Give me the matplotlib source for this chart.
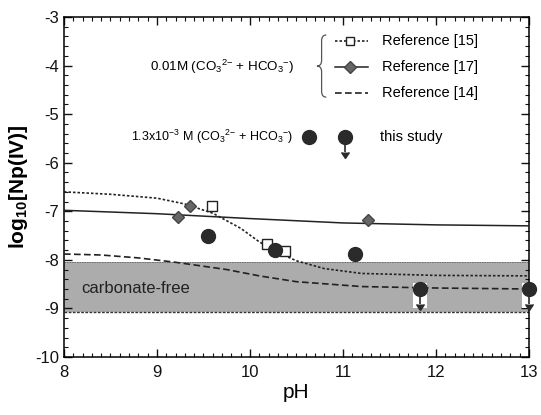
import matplotlib
matplotlib.use("Agg")
import matplotlib.pyplot as plt
from matplotlib.ticker import MultipleLocator
from matplotlib.path import Path
from matplotlib.patches import PathPatch

plt.rcParams['font.family'] = ['Liberation Sans', 'DejaVu Sans']
plt.rcParams['mathtext.default'] = 'regular'
plt.rcParams['axes.unicode_minus'] = False

# Reference [15] (dotted curve + open squares)
ref15_curve_ph = [8.0, 8.5, 9.0, 9.3, 9.6, 9.9, 10.1, 10.3, 10.5, 10.8, 11.2, 12.0, 13.0]
ref15_curve_log = [-6.60, -6.65, -6.73, -6.85, -7.04, -7.35, -7.63, -7.85, -8.02, -8.18, -8.28, -8.32, -8.33]
ref15_pts_ph = [9.59, 10.18, 10.38]
ref15_pts_log = [-6.89, -7.68, -7.82]

# Reference [17] (solid curve + diamonds)
ref17_curve_ph = [8.0, 9.0, 10.0, 11.0, 12.0, 13.0]
ref17_curve_log = [-6.98, -7.05, -7.15, -7.24, -7.28, -7.30]
ref17_pts_ph = [9.23, 9.36, 11.27]
ref17_pts_log = [-7.12, -6.90, -7.18]

# Reference [14] (dashed curve)
ref14_curve_ph = [8.0, 8.4, 8.8, 9.2, 9.75, 10.1, 10.5, 11.2, 12.0, 13.0]
ref14_curve_log = [-7.88, -7.90, -7.96, -8.05, -8.20, -8.33, -8.45, -8.55, -8.58, -8.60]

# This study
study_ph = [9.55, 10.27, 11.13]
study_log = [-7.51, -7.80, -7.88]
study_lim_ph = [11.83, 13.0]
study_lim_log = [-8.60, -8.60]

# Carbonate-free band
band_ph = [8.0, 13.0]
band_low = [-9.08, -9.08]
band_high = [-8.05, -8.05]

DARK = '#2a2a2a'

fig = plt.figure(figsize=(5.41, 4.15), dpi=100)
ax = fig.add_axes([0.1183, 0.1398, 0.8595, 0.8192])

ax.fill_between(band_ph, band_low, band_high, color='#acacac', zorder=1, lw=0)
ax.plot(band_ph, band_low, color='#333333', lw=1.0, ls=(0, (2, 1)), zorder=2)
ax.plot(band_ph, band_high, color='#666666', lw=0.6, ls=(0, (2, 1)), zorder=2)
ax.text(8.19, -8.6, 'carbonate-free', fontsize=12, color='#222222', va='center', ha='left', zorder=3)

ax.plot(ref15_curve_ph, ref15_curve_log, color='#222222', lw=1.2, ls=(0, (1.5, 1.2)), zorder=4)
ax.plot(ref17_curve_ph, ref17_curve_log, color='#222222', lw=1.1, ls='-', zorder=4)
ax.plot(ref14_curve_ph, ref14_curve_log, color='#222222', lw=1.2, ls=(0, (4, 2)), zorder=4)

ax.plot(ref15_pts_ph, ref15_pts_log, ls='none', marker='s', ms=7, mfc='white', mec='#222222', mew=1.0, zorder=5)
ax.plot(ref17_pts_ph, ref17_pts_log, ls='none', marker='D', ms=6, mfc='#666666', mec='#444444', zorder=5)

ax.plot(study_ph, study_log, ls='none', marker='o', ms=10, mfc=DARK, mec=DARK, zorder=6)
# white box behind upper-limit points
ax.bar(study_lim_ph, [0.52, 0.52], bottom=[v - 0.40 for v in study_lim_log], width=0.15,
       color='white', zorder=5, clip_on=False)
ax.errorbar(study_lim_ph, study_lim_log, yerr=0.3, uplims=True, fmt='o', ms=10, color=DARK,
            mfc=DARK, mec=DARK, ecolor=DARK, elinewidth=1.2, capsize=3,
            zorder=7, clip_on=False)

ax.set_xlim(8, 13)
ax.set_ylim(-10, -3)
ax.xaxis.set_major_locator(MultipleLocator(1))
ax.xaxis.set_minor_locator(MultipleLocator(0.1))
ax.yaxis.set_major_locator(MultipleLocator(1))
ax.yaxis.set_minor_locator(MultipleLocator(0.2))
ax.tick_params(which='both', direction='in', top=True, right=True, labelsize=12, colors='#111111')
ax.tick_params(which='major', length=6, width=1)
ax.tick_params(which='minor', length=3, width=0.8)
ax.tick_params(axis='x', pad=6)
for s in ax.spines.values():
    s.set_linewidth(1.1)

ax.set_xlabel('pH', fontsize=15, labelpad=2)
ax.set_ylabel('log$_{10}$[Np(IV)]', fontsize=15, fontweight='bold', labelpad=4)

carb = '(CO$_3$$^{2{-}}$ + HCO$_3$$^{{-}}$)'

# manual legend
ax.text(8.92, -4.02, '0.01M ' + carb, fontsize=9.6, va='center', ha='left')
# brace
xc, w, top, bot = 10.77, 0.05, -3.37, -4.65
mid = (top + bot) / 2
verts = [(xc + w, top), (xc, top), (xc, top - 0.12),
         (xc, mid + 0.12),
         (xc, mid), (xc - w, mid),
         (xc, mid), (xc, mid - 0.12),
         (xc, bot + 0.12),
         (xc, bot), (xc + w, bot)]
codes = [Path.MOVETO, Path.CURVE3, Path.CURVE3, Path.LINETO,
         Path.CURVE3, Path.CURVE3, Path.CURVE3, Path.CURVE3,
         Path.LINETO, Path.CURVE3, Path.CURVE3]
ax.add_patch(PathPatch(Path(verts, codes), fill=False, edgecolor='#555555', lw=0.9))

leg_x = [10.91, 11.27]
leg_y = [-3.5, -4.02, -4.56]
ax.plot(leg_x, [leg_y[0]] * 2, color='#222222', lw=1.2, ls=(0, (1.5, 1.2)))
ax.plot([11.07], [leg_y[0]], marker='s', ms=6, mfc='white', mec='#222222')
ax.plot(leg_x, [leg_y[1]] * 2, color='#222222', lw=1.1)
ax.plot([11.07], [leg_y[1]], marker='D', ms=6, mfc='#666666', mec='#444444')
ax.plot(leg_x, [leg_y[2]] * 2, color='#222222', lw=1.2, ls=(0, (4, 2)))
for yy, t in zip(leg_y, ['Reference [15]', 'Reference [17]', 'Reference [14]']):
    ax.text(11.42, yy, t, fontsize=10.5, va='center', ha='left')

ax.text(8.72, -5.47, '1.3x10$^{{-}3}$ M ' + carb, fontsize=9.0, va='center', ha='left')
ax.plot([10.63, 11.02], [-5.47, -5.47], ls='none', marker='o', ms=10, mfc=DARK, mec=DARK)
ax.errorbar([11.02], [-5.47], yerr=0.3, uplims=True, fmt='none', ecolor=DARK, color=DARK,
            elinewidth=1.2, capsize=3)
ax.text(11.4, -5.47, 'this study', fontsize=10.5, va='center', ha='left')

fig.savefig('out.png', dpi=100)
